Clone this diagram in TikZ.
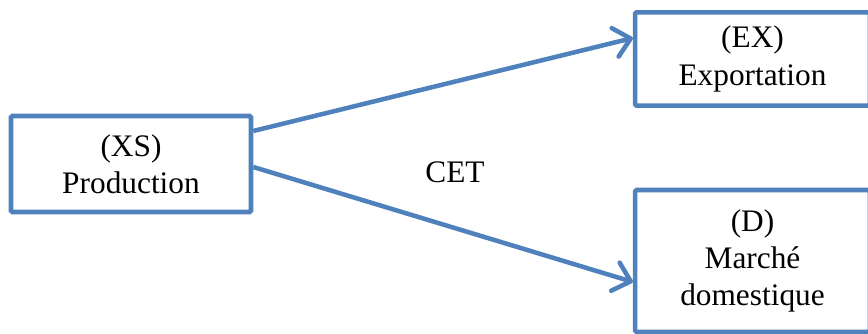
\documentclass[tikz,border=0pt]{standalone}
\usepackage{fontspec}
\setmainfont{Liberation Serif}
\usetikzlibrary{arrows.meta, calc, positioning}
\definecolor{boxblue}{RGB}{79,129,189}

\begin{document}
\begin{tikzpicture}[x=0.75pt, y=-0.75pt,
        bloc/.style={draw=boxblue, line width=3.4pt, rounded corners=1pt, fill=white,
            align=center, inner sep=0pt, font=\fontsize{23.5}{28}\selectfont},
        flux/.style={draw=boxblue, line width=3.4pt,
            -{Straight Barb[length=12pt, width=22pt, round]}}]
        \useasboundingbox (0,0) rectangle (868,334);

        % Blocs
        \node[bloc, minimum width=180pt, minimum height=72pt] (prod) at (131,164) {(XS)\\Production};
        \node[bloc, minimum width=176pt, minimum height=70pt] (expo) at (752.5,59) {(EX)\\Exportation};
        \node[bloc, minimum width=176pt, minimum height=106.5pt] (dom) at (752.5,261) {(D)\\Marché\\domestique};

        % Fleches
        \draw[flux] ($(prod.east)+(0,-33)$) -- ($(expo.west)+(0,-21)$);
        \draw[flux] ($(prod.east)+(0,3)$) -- ($(dom.west)+(0,21)$);
        \node[font=\fontsize{23.5}{28}\selectfont] (cet) at (455,172) {CET};
    \end{tikzpicture}
\end{document}
